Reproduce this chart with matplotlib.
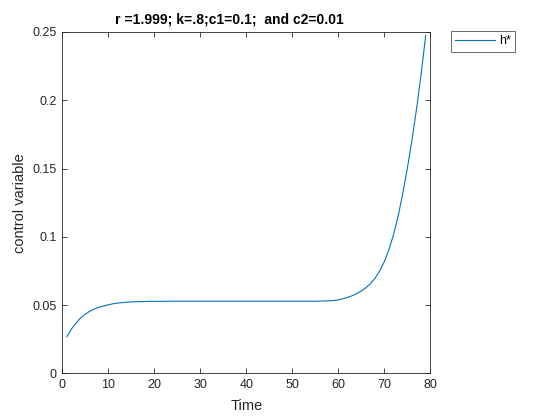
import matplotlib
matplotlib.use("Agg")
import matplotlib.pyplot as plt
import numpy as np

# control variable h* over time
time = np.arange(1, 80)
h_star = [
    0.0268, 0.0325, 0.0369, 0.0406, 0.0433, 0.0455, 0.0471, 0.0484, 0.0493, 0.0502,
    0.0509, 0.0514, 0.0518, 0.0521, 0.0523, 0.0524, 0.0525, 0.0526, 0.0527, 0.0527,
    0.0527, 0.0527, 0.0528, 0.0528, 0.0528, 0.0528, 0.0528, 0.0528, 0.0528, 0.0528,
    0.0528, 0.0528, 0.0528, 0.0528, 0.0528, 0.0528, 0.0528, 0.0528, 0.0528, 0.0528,
    0.0528, 0.0528, 0.0528, 0.0528, 0.0528, 0.0528, 0.0528, 0.0528, 0.0528, 0.0528,
    0.0528, 0.0528, 0.0528, 0.0528, 0.0528, 0.0529, 0.0530, 0.0531, 0.0533, 0.0538,
    0.0546, 0.0556, 0.0568, 0.0584, 0.0603, 0.0627, 0.0657, 0.0697, 0.0750, 0.0818,
    0.0905, 0.1015, 0.1150, 0.1315, 0.1500, 0.1705, 0.1935, 0.2190, 0.2475,
]

xticks = [0, 10, 20, 30, 40, 50, 60, 70, 80]
yticks = [0, 0.05, 0.1, 0.15, 0.2, 0.25]
ytick_labels = ["0", "0.05", "0.1", "0.15", "0.2", "0.25"]

plt.rcParams["font.family"] = ["Liberation Sans", "DejaVu Sans"]
AX_COLOR = "#262626"
LINE_BLUE = "#0072BD"

fig = plt.figure(figsize=(5.6, 4.2), dpi=100)
ax = fig.add_axes([62.3 / 560, 1 - 373.3 / 420, 368 / 560, 341.3 / 420])

ax.plot(time, h_star, color=LINE_BLUE, linewidth=0.8, label="h*")

ax.set_xlim(0, 80)
ax.set_ylim(0, 0.25)
ax.set_xticks(xticks)
ax.set_yticks(yticks)
ax.set_yticklabels(ytick_labels)
ax.tick_params(direction="in", length=3.5, width=0.6, colors=AX_COLOR,
               labelsize=9, top=True, right=True, pad=4)
for s in ax.spines.values():
    s.set_color(AX_COLOR)
    s.set_linewidth(0.6)

ax.set_xlabel("Time", fontsize=10.5, color=AX_COLOR, labelpad=6)
ax.set_ylabel("control variable", fontsize=10.5, color=AX_COLOR, labelpad=4)
ax.set_title("r =1.999; k=.8;c1=0.1;  and c2=0.01", fontsize=10,
             fontweight="bold", x=0.453, pad=6)

leg = ax.legend(loc="upper left", bbox_to_anchor=(451 / 560, 1 - 31 / 420),
                bbox_transform=fig.transFigure, fontsize=9, frameon=True,
                fancybox=False, borderpad=0.35, handlelength=3.2,
                handletextpad=0.3, borderaxespad=0)
leg.get_frame().set_edgecolor(AX_COLOR)
leg.get_frame().set_linewidth(0.6)

fig.savefig("out.png", dpi=100, facecolor="white")
